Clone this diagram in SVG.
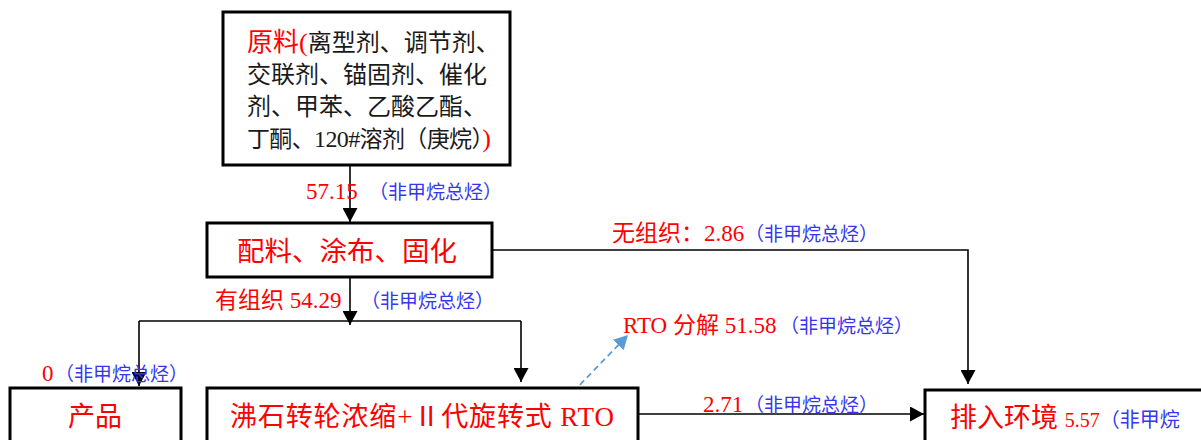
<svg xmlns="http://www.w3.org/2000/svg" width="1201" height="440" viewBox="0 0 1201 440">
<style>
.box{fill:#fff;stroke:#000;stroke-width:3}
.t{font-family:"Liberation Serif","Noto Sans CJK SC",serif}
.r{fill:#ff0000}
.b{fill:#3636f0}
.k{fill:#1a1a1a}
.ln{fill:none;stroke:#000;stroke-width:1.6}
</style>
<defs>
<marker id="ah" markerUnits="userSpaceOnUse" markerWidth="15" markerHeight="15" refX="14" refY="7.5" orient="auto" viewBox="0 0 15 15">
<path d="M0,0 L14,7.5 L0,15 z" fill="#000"/>
</marker>
<marker id="ahb" markerUnits="userSpaceOnUse" markerWidth="15" markerHeight="15" refX="14" refY="7.5" orient="auto" viewBox="0 0 15 15">
<path d="M0,0 L14,7.5 L0,15 z" fill="#5b9bd5"/>
</marker>
</defs>
<rect width="1201" height="440" fill="#fff"/>

<g id="connectors">
<line class="ln" x1="350" y1="166" x2="350" y2="222" marker-end="url(#ah)"/>
<line class="ln" x1="350" y1="278" x2="350" y2="325" marker-end="url(#ah)"/>
<polyline class="ln" points="139,321 521,321"/>
<line class="ln" x1="139" y1="321" x2="139" y2="386" marker-end="url(#ah)"/>
<line class="ln" x1="521" y1="321" x2="521" y2="382" marker-end="url(#ah)"/>
<polyline class="ln" points="492,250 968,250 968,384" marker-end="url(#ah)"/>
<line class="ln" x1="638" y1="414" x2="924" y2="414" marker-end="url(#ah)"/>
<line x1="573" y1="392" x2="628" y2="335" stroke="#5b9bd5" stroke-width="1.8" stroke-dasharray="6 4" marker-end="url(#ahb)"/>
</g>

<g id="raw">
<rect class="box" x="223" y="12" width="287" height="153"/>
<text class="t" x="247" y="51"><tspan class="r" font-size="26">原料(</tspan><tspan class="k" font-size="24">离型剂、调节剂、</tspan></text>
<text class="t k" x="247" y="83" font-size="24">交联剂、锚固剂、催化</text>
<text class="t k" x="247" y="115" font-size="24">剂、甲苯、乙酸乙酯、</text>
<text class="t" x="247" y="147" font-size="23" textLength="244" lengthAdjust="spacing"><tspan class="k">丁酮、</tspan><tspan class="k" font-size="24">120#</tspan><tspan class="k">溶剂（庚烷）</tspan><tspan class="r" font-size="26">)</tspan></text>
</g>

<g id="process">
<rect class="box" x="207" y="223" width="285" height="54"/>
<text class="t r" x="237" y="261" font-size="27.5">配料、涂布、固化</text>
</g>

<g id="product">
<rect class="box" x="10" y="388" width="171" height="60"/>
<text class="t r" x="95" y="426" font-size="27" text-anchor="middle">产品</text>
</g>

<g id="rto">
<rect class="box" x="207" y="388" width="431" height="60"/>
<text class="t r" x="230" y="426" font-size="27" textLength="384" lengthAdjust="spacing">沸石转轮浓缩+Ⅱ代旋转式 RTO</text>
</g>

<g id="env">
<rect class="box" x="925" y="390" width="290" height="60"/>
<text class="t" x="950" y="427"><tspan class="r" font-size="27">排入环境 </tspan><tspan class="r" font-size="20">5.57</tspan><tspan class="b" font-size="20">（非甲烷</tspan></text>
</g>

<g id="labels">
<text class="t r" x="306" y="199" font-size="23">57.15</text>
<text class="t b" x="369" y="199" font-size="19">（非甲烷总烃）</text>
<text class="t r" x="612" y="241" font-size="23">无组织：2.86</text>
<text class="t b" x="745" y="241" font-size="19">（非甲烷总烃）</text>
<text class="t r" x="215" y="308" font-size="23">有组织 54.29</text>
<text class="t b" x="361" y="308" font-size="19">（非甲烷总烃）</text>
<text class="t r" x="623" y="333" font-size="23">RTO 分解 51.58</text>
<text class="t b" x="780" y="333" font-size="19">（非甲烷总烃）</text>
<text class="t r" x="42" y="381" font-size="23">0</text>
<text class="t b" x="55" y="381" font-size="19">（非甲烷总烃）</text>
<text class="t r" x="703" y="412" font-size="23">2.71</text>
<text class="t b" x="745" y="412" font-size="19">（非甲烷总烃）</text>
</g>
</svg>
